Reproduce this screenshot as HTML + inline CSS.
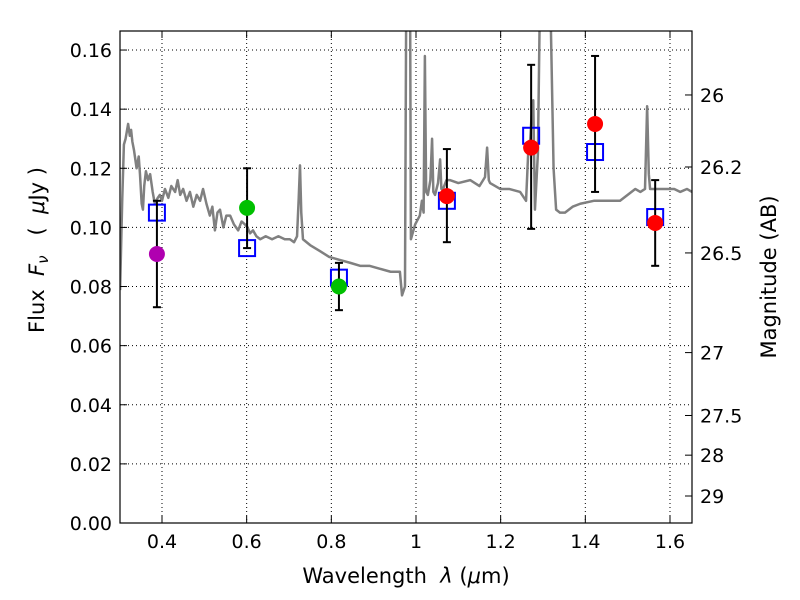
<!DOCTYPE html>
<html><head><meta charset="utf-8"><style>
body{margin:0;background:#fff}
svg{font-family:"DejaVu Sans","Liberation Sans",sans-serif;display:block}
</style></head><body>
<svg id="chart" width="800" height="600">
<rect width="800" height="600" fill="#fff"/>
<text x="406" y="583" font-size="21" text-anchor="middle" xml:space="preserve">Wavelength  <tspan font-style="italic">λ</tspan> (<tspan font-style="italic">μ</tspan>m)</text>
<text transform="translate(44,250) rotate(-90)" font-size="21" text-anchor="middle" xml:space="preserve">Flux  <tspan font-style="italic">F</tspan><tspan font-style="italic" font-size="15" dy="4">ν</tspan><tspan dy="-4">   (  </tspan><tspan font-style="italic">μ</tspan>Jy )</text>
<text transform="translate(776,277) rotate(-90)" font-size="21" text-anchor="middle">Magnitude (AB)</text>
</svg>
<script>
const specLam=[0.301,0.306,0.310,0.314,0.320,0.324,0.327,0.330,0.334,0.340,0.345,0.348,0.352,0.355,0.358,0.362,0.367,0.372,0.378,0.383,0.390,0.395,0.400,0.407,0.415,0.422,0.431,0.437,0.443,0.450,0.458,0.466,0.474,0.482,0.490,0.497,0.505,0.513,0.519,0.525,0.531,0.537,0.545,0.552,0.561,0.570,0.580,0.588,0.596,0.602,0.608,0.615,0.623,0.632,0.645,0.660,0.675,0.690,0.702,0.712,0.719,0.723,0.726,0.729,0.733,0.750,0.773,0.795,0.820,0.845,0.868,0.890,0.915,0.940,0.962,0.967,0.974,0.977,0.986,0.988,0.998,1.009,1.014,1.018,1.021,1.024,1.028,1.034,1.038,1.041,1.045,1.052,1.057,1.060,1.064,1.072,1.080,1.100,1.128,1.150,1.163,1.168,1.172,1.175,1.199,1.220,1.246,1.260,1.265,1.270,1.274,1.277,1.281,1.288,1.293,1.317,1.325,1.331,1.340,1.352,1.370,1.388,1.420,1.450,1.482,1.500,1.518,1.530,1.541,1.546,1.550,1.553,1.580,1.610,1.624,1.640,1.652];
const specFlux=[0.0788,0.109,0.128,0.130,0.135,0.131,0.133,0.129,0.126,0.120,0.124,0.118,0.108,0.106,0.114,0.119,0.116,0.118,0.112,0.108,0.110,0.111,0.109,0.113,0.110,0.114,0.112,0.116,0.111,0.113,0.109,0.112,0.107,0.111,0.109,0.113,0.108,0.104,0.107,0.099,0.105,0.106,0.100,0.104,0.104,0.101,0.099,0.102,0.101,0.100,0.098,0.099,0.097,0.096,0.097,0.096,0.097,0.096,0.096,0.095,0.097,0.110,0.121,0.105,0.096,0.094,0.092,0.090,0.089,0.088,0.087,0.087,0.086,0.085,0.085,0.077,0.080,0.180,0.180,0.096,0.101,0.104,0.109,0.105,0.158,0.112,0.111,0.116,0.130,0.112,0.111,0.115,0.123,0.113,0.113,0.116,0.116,0.115,0.116,0.114,0.117,0.127,0.116,0.115,0.113,0.113,0.112,0.109,0.125,0.130,0.140,0.143,0.106,0.125,0.180,0.180,0.120,0.106,0.105,0.105,0.107,0.108,0.109,0.109,0.109,0.111,0.113,0.112,0.113,0.141,0.118,0.113,0.113,0.113,0.112,0.113,0.112];
const obsLam=[0.388,0.601,0.818,1.073,1.272,1.423,1.565];
const obsFlux=[0.091,0.1066,0.080,0.1106,0.127,0.135,0.1015];
const errLo=[0.073,0.093,0.072,0.095,0.0995,0.112,0.087];
const errHi=[0.109,0.120,0.088,0.1265,0.155,0.158,0.116];
const obsColor=['#b000b0','#00c000','#00c000','#ff0000','#ff0000','#ff0000','#ff0000'];
const modLam=[0.388,0.601,0.818,1.073,1.272,1.423,1.565];
const modFlux=[0.105,0.093,0.083,0.109,0.131,0.1255,0.1035];
const xTicks=[0.4,0.6,0.8,1.0,1.2,1.4,1.6];
const xTickLabels=['0.4','0.6','0.8','1','1.2','1.4','1.6'];
const yTicks=[0,0.02,0.04,0.06,0.08,0.1,0.12,0.14,0.16];
const magTicks=[26,26.2,26.5,27,27.5,28,29];
const magLabels=['26','26.2','26.5','27','27.5','28','29'];

const L=120,R=692,T=31,B=523;
const xMin=0.3008,xMax=1.652,yMin=0,yMax=(B-T)/2956;
const X=v=>L+(v-xMin)/(xMax-xMin)*(R-L);
const Y=v=>B-(v-yMin)/(yMax-yMin)*(B-T);
const magToFlux=m=>0.1448*Math.pow(10,-0.4*(m-26));
const NS='http://www.w3.org/2000/svg';
const svg=document.getElementById('chart');
function mk(tag,attrs,parent){const e=document.createElementNS(NS,tag);for(const k in attrs)e.setAttribute(k,attrs[k]);(parent||svg).appendChild(e);return e;}

const clip=mk('clipPath',{id:'pc'});mk('rect',{x:L,y:T,width:R-L,height:B-T},clip);
const grid=mk('g',{});


xTicks.forEach(v=>mk('line',{x1:X(v),x2:X(v),y1:T,y2:B,stroke:'#000','stroke-width':1,'stroke-dasharray':'1,3'},grid));
yTicks.forEach(v=>mk('line',{x1:L,x2:R,y1:Y(v),y2:Y(v),stroke:'#000','stroke-width':1,'stroke-dasharray':'1,3'},grid));
const pl=mk('polyline',{points:specLam.map((l,i)=>X(l)+','+Y(specFlux[i])).join(' '),fill:'none',stroke:'#808080','stroke-width':2.5,'stroke-linejoin':'round','clip-path':'url(#pc)'});


modLam.forEach((l,i)=>{
  const s=mk('rect',{x:X(l)-8,y:Y(modFlux[i])-8,width:16,height:16,fill:'none',stroke:'#0000ff','stroke-width':2});
  
  
});
obsLam.forEach((l,i)=>{
  const g=mk('g',{});
  
  
  const x=X(l);
  mk('line',{x1:x,x2:x,y1:Y(errLo[i]),y2:Y(errHi[i]),stroke:'#000','stroke-width':2},g);
  mk('line',{x1:x-4,x2:x+4,y1:Y(errLo[i]),y2:Y(errLo[i]),stroke:'#000','stroke-width':2},g);
  mk('line',{x1:x-4,x2:x+4,y1:Y(errHi[i]),y2:Y(errHi[i]),stroke:'#000','stroke-width':2},g);
  mk('circle',{cx:x,cy:Y(obsFlux[i]),r:8,fill:obsColor[i]},g);
});
const fr=mk('rect',{x:L,y:T,width:R-L,height:B-T,fill:'none',stroke:'#000','stroke-width':1.2});


xTicks.forEach((v,i)=>{
  mk('line',{x1:X(v),x2:X(v),y1:B,y2:B-7,stroke:'#000'});
  mk('line',{x1:X(v),x2:X(v),y1:T,y2:T+7,stroke:'#000'});
  const t=mk('text',{x:X(v),y:B+25,'font-size':19,'text-anchor':'middle'});
  t.textContent=xTickLabels[i];
  
  
});
yTicks.forEach(v=>{
  mk('line',{x1:L,x2:L+7,y1:Y(v),y2:Y(v),stroke:'#000'});
  const t=mk('text',{x:L-8,y:Y(v)+7,'font-size':19,'text-anchor':'end'});
  t.textContent=v.toFixed(2);
  
  
});
magTicks.forEach((m,i)=>{
  const y=Y(magToFlux(m));
  mk('line',{x1:R,x2:R-7,y1:y,y2:y,stroke:'#000'});
  const t=mk('text',{x:R+8,y:y+7,'font-size':19});
  t.textContent=magLabels[i];
  
  
});
</script>
</body></html>
